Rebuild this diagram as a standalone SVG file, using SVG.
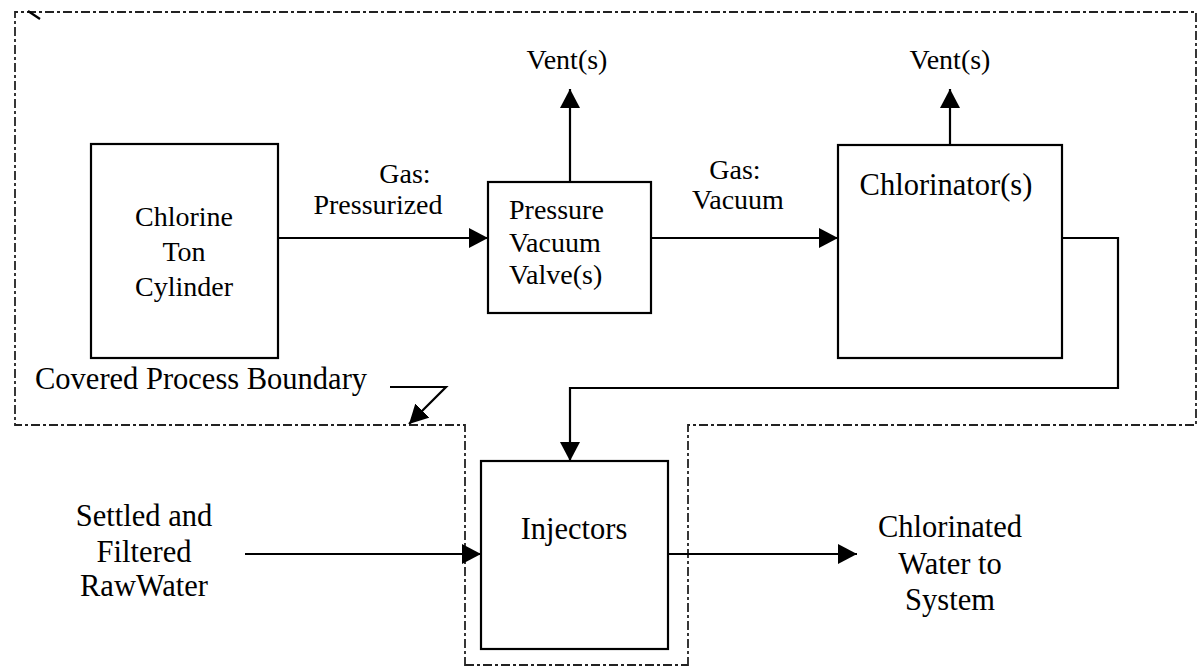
<svg xmlns="http://www.w3.org/2000/svg" width="1203" height="666" viewBox="0 0 1203 666">
<style>
  .box { fill: #fff; stroke: #000; stroke-width: 2.2; }
  .ln { fill: none; stroke: #000; stroke-width: 2.2; }
  .bd { fill: none; stroke: #222; stroke-width: 1.8; stroke-dasharray: 9 3 3 3; }
  .tx { font-family: 'Liberation Serif', 'DejaVu Serif', serif; fill: #000; }
  .t28 { font-size: 28px; }
  .t31 { font-size: 30.5px; }
  .c { text-anchor: middle; }
</style>
<defs>
  <marker id="ah" markerWidth="20" markerHeight="20" refX="19" refY="10" orient="auto" markerUnits="userSpaceOnUse">
    <path d="M0,0 L19,10 L0,20 Z" fill="#000"/>
  </marker>
</defs>
<rect width="1203" height="666" fill="#fff"/>

<g id="boundary">
  <polyline class="bd" points="465,666 465,425 15,425 15,12 1196,12 1196,425 688,425 688,666"/>
  <line class="bd" x1="465" y1="665" x2="688" y2="665"/>
  <line class="ln" x1="28" y1="11" x2="40" y2="19" stroke-width="1.8"/>
  <text id="boundary-label" class="tx t31" font-family="Liberation Serif, serif" x="35" y="389">Covered Process Boundary</text>
</g>

<g id="connectors">
  <line class="ln" x1="278" y1="238" x2="488" y2="238" marker-end="url(#ah)"/>
  <line class="ln" x1="570" y1="182" x2="570" y2="89" marker-end="url(#ah)"/>
  <line class="ln" x1="651" y1="238" x2="838" y2="238" marker-end="url(#ah)"/>
  <line class="ln" x1="950" y1="145" x2="950" y2="89" marker-end="url(#ah)"/>
  <polyline class="ln" points="1062,238 1118,238 1118,388 570,388 570,461" marker-end="url(#ah)"/>
  <line class="ln" x1="245" y1="554" x2="481" y2="554" marker-end="url(#ah)"/>
  <line class="ln" x1="668" y1="554" x2="857" y2="554" marker-end="url(#ah)"/>
  <polyline class="ln" points="390,387 446,387 409,424" stroke-width="1.8" marker-end="url(#ah)"/>
</g>

<g id="labels" font-family="Liberation Serif, serif">
  <text class="tx t28 c" x="567" y="69">Vent(s)</text>
  <text class="tx t28 c" x="950" y="69">Vent(s)</text>
  <text class="tx t28 c" x="405" y="183">Gas:</text>
  <text class="tx t28 c" x="378" y="214">Pressurized</text>
  <text class="tx t28 c" x="735" y="179">Gas:</text>
  <text class="tx t28 c" x="738" y="209">Vacuum</text>
  <text class="tx t31 c" x="144" y="526">Settled and</text>
  <text class="tx t31 c" x="144" y="562">Filtered</text>
  <text class="tx t31 c" x="144" y="596">RawWater</text>
  <text class="tx t31 c" x="950" y="537">Chlorinated</text>
  <text class="tx t31 c" x="950" y="574">Water to</text>
  <text class="tx t31 c" x="950" y="610">System</text>
</g>

<g id="chlorine-cylinder" font-family="Liberation Serif, serif">
  <rect class="box" x="91" y="144" width="187" height="214"/>
  <text class="tx t28 c" x="184" y="226">Chlorine</text>
  <text class="tx t28 c" x="184" y="261">Ton</text>
  <text class="tx t28 c" x="184" y="296">Cylinder</text>
</g>

<g id="pressure-vacuum-valve" font-family="Liberation Serif, serif">
  <rect class="box" x="488" y="182" width="163" height="131"/>
  <text class="tx t28" x="509" y="219">Pressure</text>
  <text class="tx t28" x="509" y="252">Vacuum</text>
  <text class="tx t28" x="509" y="284">Valve(s)</text>
</g>

<g id="chlorinator" font-family="Liberation Serif, serif">
  <rect class="box" x="838" y="145" width="224" height="213"/>
  <text class="tx t31 c" x="946" y="195">Chlorinator(s)</text>
</g>

<g id="injectors" font-family="Liberation Serif, serif">
  <rect class="box" x="481" y="461" width="187" height="188"/>
  <text class="tx t31 c" x="574" y="539">Injectors</text>
</g>
</svg>
